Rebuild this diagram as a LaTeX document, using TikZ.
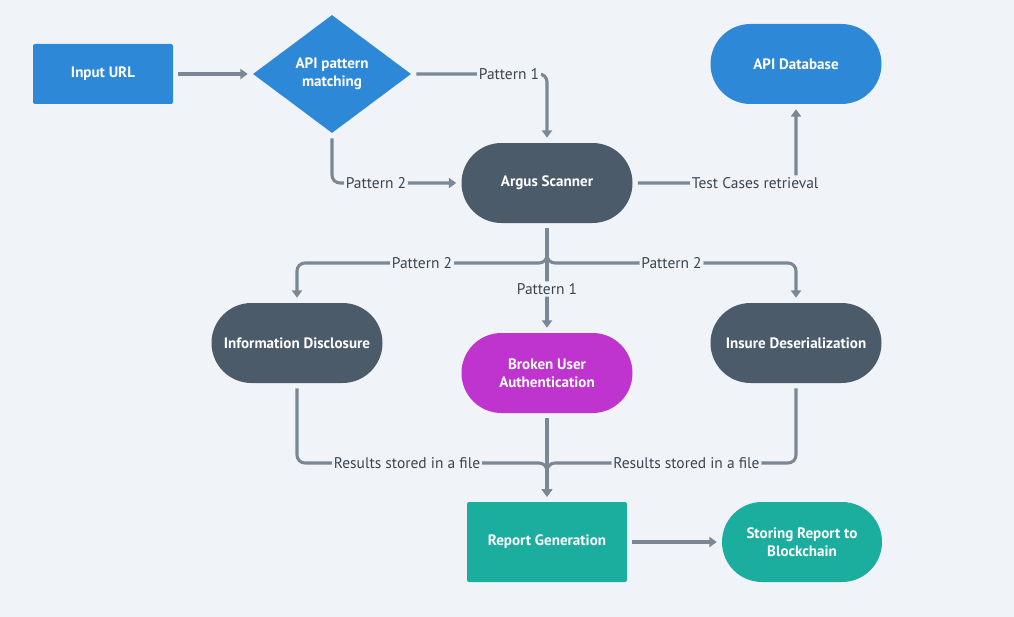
\documentclass[tikz,border=0pt]{standalone}
\usepackage{fontspec}
\setmainfont{PT Sans}
\usetikzlibrary{arrows.meta,shapes.geometric}
\definecolor{bgcol}{HTML}{F0F4F8}
\definecolor{bluecol}{HTML}{2E88D8}
\definecolor{darkcol}{HTML}{4B5B6A}
\definecolor{pinkcol}{HTML}{BF33CF}
\definecolor{tealcol}{HTML}{1BAE9E}
\definecolor{linecol}{HTML}{7B8794}
\definecolor{txtcol}{HTML}{3A4550}

\begin{document}
\begin{tikzpicture}[x=0.75pt,y=-0.75pt]
    \tikzset{box/.style = {shape=rectangle,rounded corners=1.5pt,text=white,
        font=\fontsize{11.3}{13.5}\selectfont\bfseries,align=center,
        minimum width=120pt,minimum height=60pt}}
    \tikzset{pill/.style = {box,rounded corners=30pt,minimum width=128.25pt}}
    \tikzset{decision/.style = {shape=diamond,aspect=1.34,text=white,fill=bluecol,
        font=\fontsize{11.3}{13.5}\selectfont\bfseries,align=center,
        inner sep=0pt,minimum width=118.5pt,minimum height=88.5pt}}
    \tikzset{edge/.style = {draw=linecol,line width=2.3pt,rounded corners=6pt,
        shorten <=3.75pt,shorten >=3.75pt,
        -{Triangle[width=7.5pt,length=5.5pt]}}}
    \tikzset{lbl/.style = {fill=bgcol,text=txtcol,inner sep=1.5pt,
        font=\fontsize{11.6}{13}\selectfont}}
    \fill[bgcol] (0,0) rectangle (1014,617);
    \useasboundingbox (0,0) rectangle (1014,617);
    % nodes
    \node[box,fill=bluecol,minimum width=105pt,minimum height=45pt] (in) at (103,74) {Input URL};
    \node[decision] (pm) at (332,74) {API pattern\\matching};
    \node[pill,fill=darkcol] (scan) at (547,183) {Argus Scanner};
    \node[pill,fill=bluecol] (db) at (796,64) {API Database};
    \node[pill,fill=darkcol] (info) at (297,343) {Information Disclosure};
    \node[pill,fill=pinkcol] (auth) at (547,373) {Broken User\\Authentication};
    \node[pill,fill=darkcol] (deser) at (796,343) {Insure Deserialization};
    \node[box,fill=tealcol] (report) at (547,542) {Report Generation};
    \node[pill,fill=tealcol,minimum width=120pt] (chain) at (802,542) {Storing Report to\\Blockchain};
    % bends
    \coordinate (splitL) at (297,263);
    \coordinate (splitR) at (796,263);
    \coordinate (join) at (547,463);

    % edges
    \draw[edge] (in) -- (pm);
    \draw[edge] (pm.east) -| node[lbl,pos=0.36] (p1a) {Pattern 1} (scan.north);
    \draw[edge] (pm.south) |- node[lbl,pos=0.67] (p2a) {Pattern 2} (scan.west);
    \draw[edge] (scan.east) -| node[lbl,pos=0.375] (tc) {Test Cases retrieval} (db.south);
    \draw[edge] (scan.south) |- node[lbl,pos=0.75] (p2b) {Pattern 2} (splitL) -- (info.north);
    \draw[edge] (scan.south) |- node[lbl,pos=0.75] (p2c) {Pattern 2} (splitR) -- (deser.north);
    \draw[edge] (scan.south) -- node[lbl,pos=0.6] (p1b) {Pattern 1} (auth.north);
    \draw[edge] (info.south) |- node[lbl,pos=0.72] (rs1) {Results stored in a file} (join) -- (report.north);
    \draw[edge] (deser.south) |- node[lbl,pos=0.72] (rs2) {Results stored in a file} (join) -- (report.north);
    \draw[edge] (auth.south) -- (report.north);
    \draw[edge] (report) -- (chain);
\end{tikzpicture}
\end{document}
